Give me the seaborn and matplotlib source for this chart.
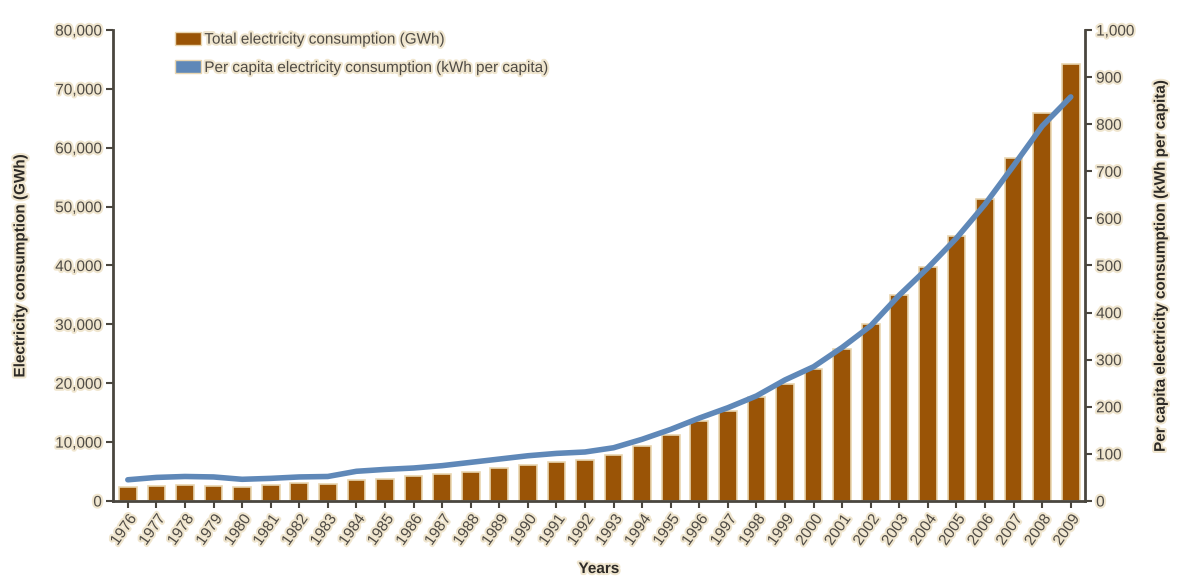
import matplotlib
matplotlib.use("Agg")
import matplotlib.pyplot as plt
import matplotlib.patheffects as pe
from matplotlib.patches import Patch
from matplotlib.ticker import FuncFormatter, MultipleLocator
import seaborn as sns
import pandas as pd
import numpy as np

# Annual data
years = [str(y) for y in range(1976, 2010)]
total_gwh = [2300, 2500, 2700, 2600, 2400, 2700, 3000, 2950, 3500, 3700,
             4250, 4500, 5000, 5600, 6100, 6600, 6900, 7800, 9400, 11200,
             13500, 15300, 17600, 19800, 22500, 25800, 30000, 35000, 39800, 45000,
             51300, 58300, 65900, 74200]
per_capita_kwh = [45, 50, 52, 51, 46, 48, 51, 52, 63, 67,
                  70, 75, 82, 89, 96, 101, 104, 113, 131, 152,
                  176, 198, 223, 257, 285, 326, 372, 437, 495, 558,
                  630, 712, 796, 858]

bar_label = "Total electricity consumption (GWh)"
line_label = "Per capita electricity consumption (kWh per capita)"

sns.set_theme(style="white")
plt.rcParams["font.family"] = ["Liberation Sans Narrow", "Liberation Sans", "DejaVu Sans"]

BAR_COLOR = "#9a5406"
LINE_COLOR = "#5f88b8"
AXIS_COLOR = "#4a463f"
TEXT_COLOR = "#4f4b45"
HALO = [pe.withStroke(linewidth=3, foreground="#f0e6cf")]

df = pd.DataFrame({"year": years, "total": total_gwh, "per_capita": per_capita_kwh})
df["pos"] = np.arange(len(df))

fig = plt.figure(figsize=(11.79, 5.83), dpi=100)
ax = fig.add_axes([0.0958, 0.1407, 0.9203 - 0.0958, 0.9485 - 0.1407])

sns.barplot(data=df, x="year", y="total", color=BAR_COLOR, width=0.62,
            edgecolor="#e9d6b0", linewidth=1.2, saturation=1, ax=ax)
ax.set_ylim(0, 80000)
ax.set_xlim(-0.52, 33.5)
ax.yaxis.set_major_locator(MultipleLocator(10000))
ax.yaxis.set_major_formatter(FuncFormatter(lambda v, p: f"{int(v):,}"))

ax2 = ax.twinx()
sns.lineplot(data=df, x="pos", y="per_capita", color=LINE_COLOR, linewidth=4,
             ax=ax2, legend=False)
ax2.set_ylim(0, 1000)
ax2.set_xlim(-0.52, 33.5)
ax2.yaxis.set_major_locator(MultipleLocator(100))
ax2.yaxis.set_major_formatter(FuncFormatter(lambda v, p: f"{int(v):,}"))

for a in (ax, ax2):
    for s in a.spines.values():
        s.set_visible(False)
    a.grid(False)

ax.spines["left"].set_visible(True)
ax.spines["bottom"].set_visible(True)
ax2.spines["right"].set_visible(True)
for s in (ax.spines["left"], ax.spines["bottom"], ax2.spines["right"]):
    s.set_color(AXIS_COLOR)
    s.set_linewidth(2)

ax.tick_params(axis="y", direction="out", length=5, width=1.5, color=AXIS_COLOR,
               labelsize=11, labelcolor=TEXT_COLOR, pad=3, left=True)
ax.tick_params(axis="x", direction="out", length=5, width=1.5, color=AXIS_COLOR,
               labelsize=11, labelcolor=TEXT_COLOR, pad=3, bottom=True)
ax2.tick_params(axis="y", direction="out", length=5, width=1.5, color=AXIS_COLOR,
                labelsize=11, labelcolor=TEXT_COLOR, pad=3, right=True)

for lbl in ax.get_xticklabels():
    lbl.set_rotation(55)
    lbl.set_ha("right")
    lbl.set_rotation_mode("anchor")
    lbl.set_path_effects(HALO)
for lbl in ax.get_yticklabels() + ax2.get_yticklabels():
    lbl.set_path_effects(HALO)

ax.set_xlabel("")
fig.text(0.5079, 0.012, "Years", ha="center", va="bottom", fontsize=11,
         fontweight="bold", color="#2e2b27", path_effects=HALO)
ax.set_ylabel("Electricity consumption (GWh)", fontsize=11, fontweight="bold",
              color="#2e2b27", labelpad=20, path_effects=HALO)
ax2.set_ylabel(line_label, fontsize=11, fontweight="bold", color="#2e2b27",
               labelpad=14, path_effects=HALO)

handles = [Patch(facecolor=BAR_COLOR, edgecolor="#e9d6b0"),
           Patch(facecolor=LINE_COLOR, edgecolor="#e9d6b0")]
leg = ax.legend(handles, [bar_label, line_label], loc="upper left",
                bbox_to_anchor=(0.05, 1.025), frameon=False, fontsize=11,
                handlelength=1.7, handleheight=0.9, handletextpad=0.2,
                labelspacing=0.9, labelcolor=TEXT_COLOR)
for t in leg.get_texts():
    t.set_path_effects(HALO)

fig.savefig("out.png", dpi=100, facecolor="white")
